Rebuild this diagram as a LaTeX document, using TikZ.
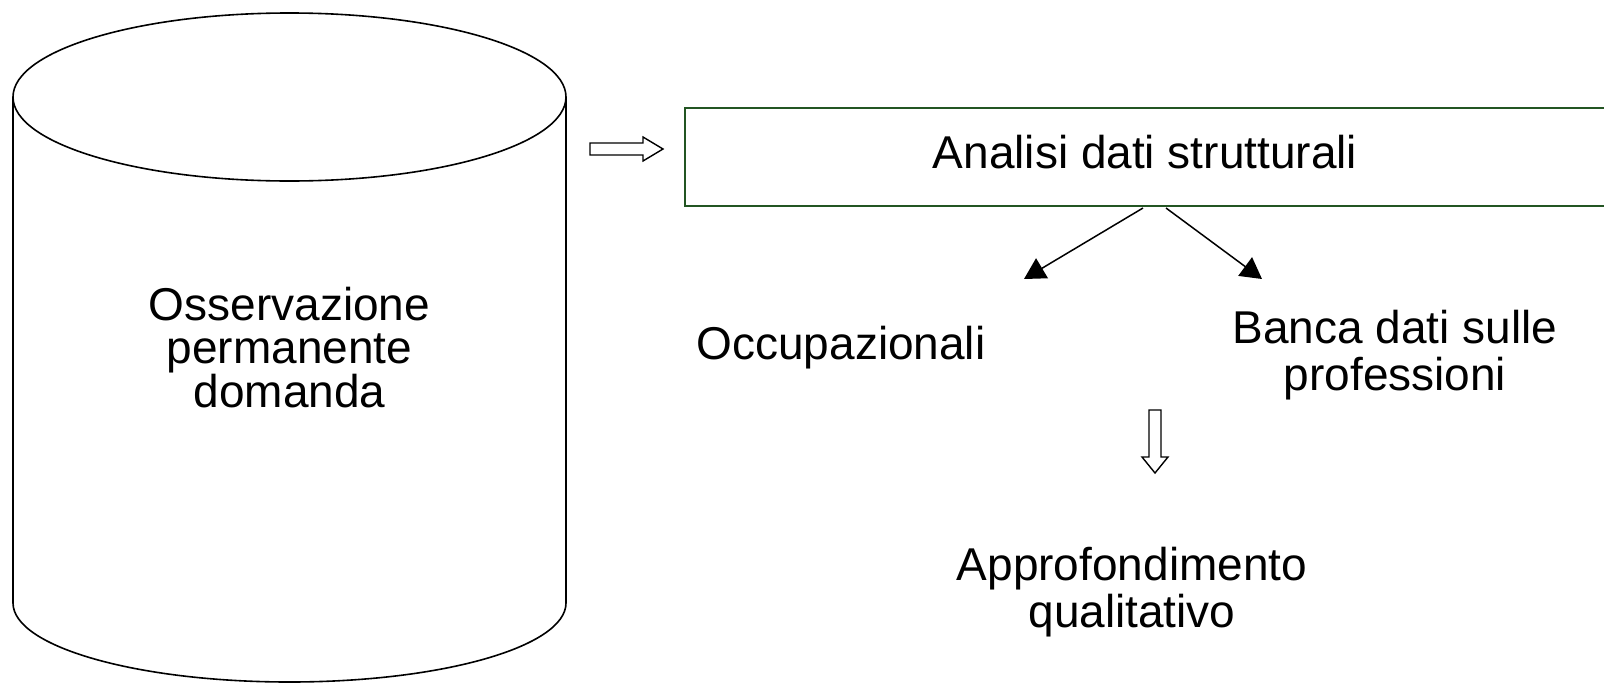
\documentclass[tikz,border=0pt]{standalone}
\usepackage{fontspec}
\setmainfont{Liberation Sans}
\usetikzlibrary{arrows.meta}
\definecolor{boxgreen}{RGB}{35,85,35}
\tikzset{
  lbl/.style={inner sep=0pt, align=center, font=\fontsize{46}{43.5}\selectfont},
  widelbl/.style={lbl, font=\fontsize{46}{47}\selectfont},
  outline/.style={draw=black, line width=1.6pt},
  pointer/.style={draw=black, line width=1.5pt, -{Triangle[length=21pt,width=23pt]}},
  blockarrow/.style={draw=black, line width=1.4pt, fill=white, line join=miter},
}
\begin{document}
\begin{tikzpicture}[x=1pt,y=-1pt]
\clip (0,0) rectangle (1604,683);
\fill[white] (0,0) rectangle (1604,683);
% cylinder
\draw[outline] (289.5,97) ellipse [x radius=276.5, y radius=84];
\draw[outline] (13,97) -- (13,603) arc[start angle=180, end angle=0, x radius=276.5, y radius=79] -- (566,97);
\node[lbl, anchor=base] (obs) at (289.5,407) {Osservazione\\permanente\\domanda};
% right block arrow
\draw[blockarrow] (590,143) -- (643,143) -- (643,137) -- (663,149) -- (643,161) -- (643,155) -- (590,155) -- cycle;
% box
\draw[draw=boxgreen, line width=1.8pt] (685,108) rectangle (1620,206);
\node[lbl, anchor=base] (analisi) at (1145,168) {Analisi dati strutturali};
\coordinate (s1) at (1143,208);
\coordinate (s2) at (1166,208);
\node[lbl, anchor=base] (occ) at (841,359) {Occupazionali};
\node[widelbl, anchor=base] (banca) at (1395,390) {Banca dati sulle\\professioni};
\coordinate (t1) at (1024,279);
\coordinate (t2) at (1262,279);
\draw[pointer] (s1) -- (t1);
\draw[pointer] (s2) -- (t2);
% down block arrow
\draw[blockarrow] (1149,410) -- (1161,410) -- (1161,457) -- (1168,457) -- (1155,473) -- (1142,457) -- (1149,457) -- cycle;
\node[widelbl, anchor=base] (appro) at (1132,627) {Approfondimento\\qualitativo};
\end{tikzpicture}
\end{document}
